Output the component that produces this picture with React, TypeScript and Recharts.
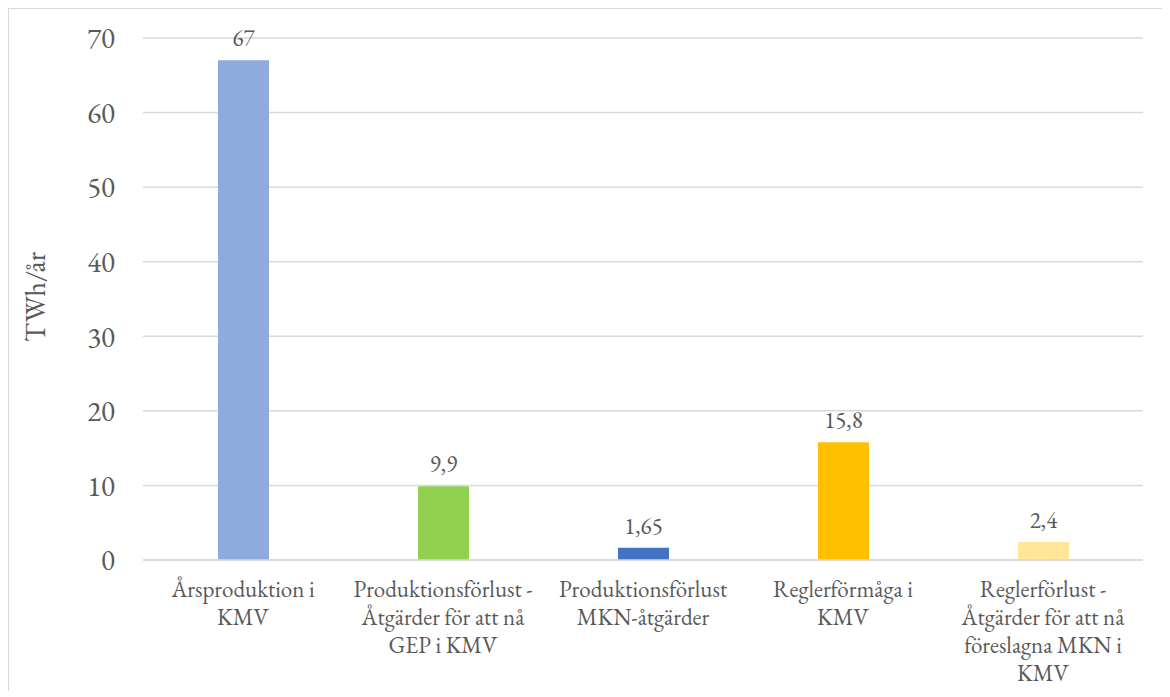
import { BarChart, Bar, XAxis, YAxis, CartesianGrid, Cell, LabelList } from "recharts";

const categories = [
  "Årsproduktion i\nKMV",
  "Produktionsförlust -\nÅtgärder för att nå\nGEP i KMV",
  "Produktionsförlust\nMKN-åtgärder",
  "Reglerförmåga i\nKMV",
  "Reglerförlust -\nÅtgärder för att nå\nföreslagna MKN i\nKMV",
];
const values = [67, 9.9, 1.65, 15.8, 2.4];
const colors = ["#8FAADC", "#92D050", "#4472C4", "#FFC000", "#FFE699"];
const yTicks = [0, 10, 20, 30, 40, 50, 60, 70];

const data = categories.map((name, i) => ({ name, value: values[i] }));

const FONT = "'EB Garamond', 'Liberation Serif', serif";
const TEXT = "#595959";

const CategoryTick = (props: any) => {
  const { x, y, payload } = props;
  const lines = String(payload.value).split("\n");
  return (
    <g>
      {lines.map((l, i) => (
        <text
          key={i}
          x={x}
          y={y + 27 + i * 28}
          textAnchor="middle"
          fill={TEXT}
          fontSize={23}
          style={{ fontFamily: FONT }}
        >
          {l}
        </text>
      ))}
    </g>
  );
};

const AxisTitle = (props: any) => {
  const vb = props.viewBox || {};
  const cx = 26;
  const cy = (vb.y ?? 0) + (vb.height ?? 0) / 2 - 2;
  return (
    <text
      transform={`translate(${cx},${cy}) rotate(-90)`}
      textAnchor="middle"
      dominantBaseline="central"
      fill={TEXT}
      fontSize={28}
      style={{ fontFamily: FONT }}
    >
      TWh/år
    </text>
  );
};

export default function App() {
  return (
    <div
      style={{
        width: 1154,
        height: 682,
        borderTop: "1px solid #d9d9d9",
        borderLeft: "1px solid #d9d9d9",
        background: "#fff",
        overflow: "hidden",
      }}
    >
      <BarChart
        width={1154}
        height={690}
        data={data}
        margin={{ top: 29, right: 20, bottom: 0, left: 0 }}
      >
        <CartesianGrid vertical={false} stroke="#d9d9d9" strokeWidth={1.5} />
        <XAxis
          dataKey="name"
          interval={0}
          height={139}
          axisLine={{ stroke: "#d9d9d9", strokeWidth: 1.5 }}
          tickLine={false}
          tick={<CategoryTick />}
          tickMargin={4}
        />
        <YAxis
          width={134}
          domain={[0, 70]}
          ticks={yTicks}
          axisLine={false}
          tickLine={false}
          tickMargin={22}
          tick={{ fill: TEXT, fontSize: 29, style: { fontFamily: FONT } }}
          label={{ content: <AxisTitle /> }}
        />
        <Bar dataKey="value" barSize={51} isAnimationActive={false}>
          {data.map((_, i) => (
            <Cell key={i} fill={colors[i]} />
          ))}
          <LabelList
            dataKey="value"
            position="top"
            offset={14}
            fill={TEXT}
            fontSize={23}
            style={{ fontFamily: FONT }}
            formatter={(v: any) => String(v).replace(".", ",")}
          />
        </Bar>
      </BarChart>
    </div>
  );
}
